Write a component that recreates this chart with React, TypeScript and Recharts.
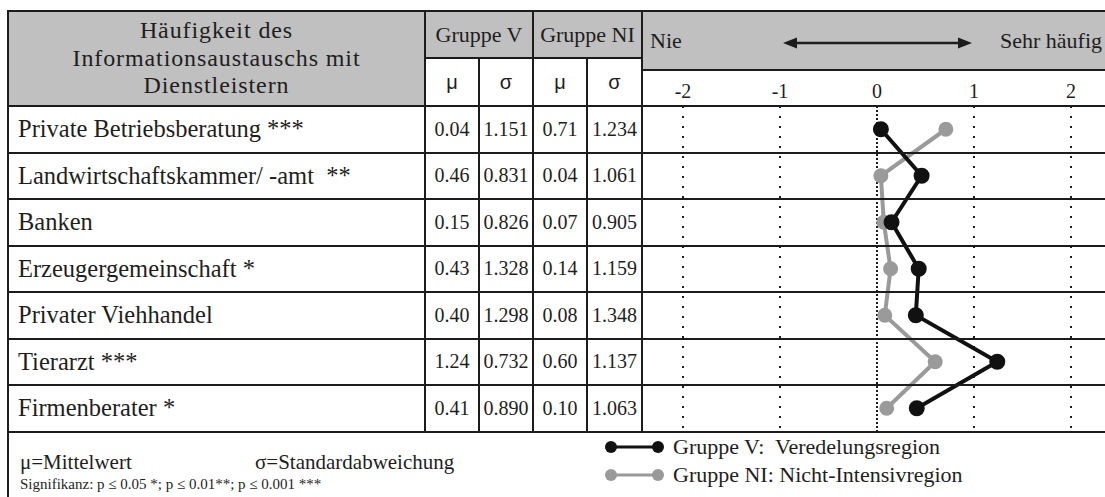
import React from "react";
import { LineChart, Line, XAxis, YAxis, ReferenceLine } from "recharts";

// ─── Data ─────────────────────────────────────────────────────────────────────

const categories = [
  "Private Betriebsberatung ***",
  "Landwirtschaftskammer/ -amt  **",
  "Banken",
  "Erzeugergemeinschaft *",
  "Privater Viehhandel",
  "Tierarzt ***",
  "Firmenberater *",
];
const meanV = [0.04, 0.46, 0.15, 0.43, 0.4, 1.24, 0.41];
const sdV = [1.151, 0.831, 0.826, 1.328, 1.298, 0.732, 0.89];
const meanNI = [0.71, 0.04, 0.07, 0.14, 0.08, 0.6, 0.1];
const sdNI = [1.234, 1.061, 0.905, 1.159, 1.348, 1.137, 1.063];
const scaleTicks = [-2, -1, 0, 1, 2];

const data = categories.map((name, i) => ({ name, v: meanV[i], ni: meanNI[i] }));

// ─── Layout ───────────────────────────────────────────────────────────────────

const SERIF = "'Liberation Serif', 'Times New Roman', serif";
const SANS = "'Liberation Sans', Arial, sans-serif";
const INK = "#1c1c1c";
const GRAY = "#c0c0c0";
const COLS = [8, 425, 479, 533, 587, 642];
const RIGHT = 1105;
const TOP = 11;
const GROUP_MID = 58;
const CHART_MID = 70;
const HEAD_BOTTOM = 106;
const ROW_H = 46.5;
const FOOT = HEAD_BOTTOM + ROW_H * categories.length;

function HLine({ x1, x2, y }: { x1: number; x2: number; y: number }) {
  return <div style={{ position: "absolute", left: x1 - 1, top: y - 1, width: x2 - x1 + 2, height: 2, background: INK }} />;
}

function VLine({ x, y1, y2 }: { x: number; y1: number; y2: number }) {
  return <div style={{ position: "absolute", left: x - 1, top: y1 - 1, width: 2, height: y2 - y1 + 2, background: INK }} />;
}

function Cell({ x1, x2, y1, y2, children, style }: {
  x1: number; x2: number; y1: number; y2: number; children?: React.ReactNode; style?: React.CSSProperties;
}) {
  return (
    <div
      style={{
        position: "absolute", left: x1, top: y1, width: x2 - x1, height: y2 - y1,
        display: "flex", alignItems: "center", justifyContent: "center",
        fontFamily: SERIF, color: "#1e1e1e", whiteSpace: "pre", ...style,
      }}
    >
      {children}
    </div>
  );
}

function LegendMark({ color, y }: { color: string; y: number }) {
  return (
    <svg style={{ position: "absolute", left: 600, top: y - 10 }} width={70} height={20}>
      <line x1={11} y1={10} x2={58} y2={10} stroke={color} strokeWidth={3} />
      <circle cx={11} cy={10} r={6} fill={color} />
      <circle cx={58} cy={10} r={6} fill={color} />
    </svg>
  );
}

// ─── Component ────────────────────────────────────────────────────────────────

export default function App() {
  return (
    <div style={{ position: "absolute", left: 0, top: 0, width: 1105, height: 497, background: "#fff", overflow: "hidden" }}>
      {/* Gray header fills */}
      <div style={{ position: "absolute", left: COLS[0], top: TOP, width: COLS[1] - COLS[0], height: HEAD_BOTTOM - TOP, background: GRAY }} />
      <div style={{ position: "absolute", left: COLS[1], top: TOP, width: COLS[5] - COLS[1], height: GROUP_MID - TOP, background: GRAY }} />
      <div style={{ position: "absolute", left: COLS[5], top: TOP, width: RIGHT - COLS[5], height: CHART_MID - TOP, background: GRAY }} />

      {/* Header text */}
      <Cell x1={COLS[0]} x2={COLS[1]} y1={TOP} y2={HEAD_BOTTOM} style={{ flexDirection: "column", fontSize: 24, lineHeight: "27.7px", letterSpacing: "0.9px" }}>
        <span>Häufigkeit des</span>
        <span>Informationsaustauschs mit</span>
        <span>Dienstleistern</span>
      </Cell>
      <Cell x1={COLS[1]} x2={COLS[3]} y1={TOP} y2={GROUP_MID} style={{ fontSize: 22 }}>Gruppe V</Cell>
      <Cell x1={COLS[3]} x2={COLS[5]} y1={TOP} y2={GROUP_MID} style={{ fontSize: 22 }}>Gruppe NI</Cell>
      {["μ", "σ", "μ", "σ"].map((s, i) => (
        <Cell key={i} x1={COLS[i + 1]} x2={COLS[i + 2]} y1={GROUP_MID} y2={HEAD_BOTTOM} style={{ fontFamily: SANS, fontSize: 20 }}>
          {s}
        </Cell>
      ))}
      <Cell x1={COLS[5] + 8} x2={COLS[5] + 60} y1={TOP} y2={CHART_MID} style={{ fontSize: 22, justifyContent: "flex-start" }}>Nie</Cell>
      <Cell x1={980} x2={RIGHT - 3} y1={TOP} y2={CHART_MID} style={{ fontSize: 22, justifyContent: "flex-end" }}>Sehr häufig</Cell>
      <svg style={{ position: "absolute", left: 780, top: 33 }} width={195} height={20}>
        <line x1={12} y1={10} x2={183} y2={10} stroke={INK} strokeWidth={2.5} />
        <polygon points="3,10 17,4.5 17,15.5" fill={INK} />
        <polygon points="192,10 178,4.5 178,15.5" fill={INK} />
      </svg>

      {/* Body rows */}
      {categories.map((name, i) => {
        const y1 = HEAD_BOTTOM + i * ROW_H;
        const y2 = y1 + ROW_H;
        return (
          <React.Fragment key={name}>
            <Cell x1={COLS[0] + 10} x2={COLS[1]} y1={y1} y2={y2} style={{ fontSize: 24.5, justifyContent: "flex-start" }}>{name}</Cell>
            <Cell x1={COLS[1]} x2={COLS[2]} y1={y1} y2={y2} style={{ fontSize: 20 }}>{meanV[i].toFixed(2)}</Cell>
            <Cell x1={COLS[2]} x2={COLS[3]} y1={y1} y2={y2} style={{ fontSize: 20 }}>{sdV[i].toFixed(3)}</Cell>
            <Cell x1={COLS[3]} x2={COLS[4]} y1={y1} y2={y2} style={{ fontSize: 20 }}>{meanNI[i].toFixed(2)}</Cell>
            <Cell x1={COLS[4]} x2={COLS[5]} y1={y1} y2={y2} style={{ fontSize: 20 }}>{sdNI[i].toFixed(3)}</Cell>
          </React.Fragment>
        );
      })}

      {/* Chart */}
      <LineChart
        layout="vertical"
        width={RIGHT - COLS[5]}
        height={FOOT - CHART_MID}
        data={data}
        margin={{ top: 0, right: 34, bottom: 0, left: 41 }}
        style={{ position: "absolute", left: COLS[5], top: CHART_MID }}
      >
        <XAxis
          type="number"
          orientation="top"
          domain={[-2, 2]}
          ticks={scaleTicks}
          interval={0}
          height={HEAD_BOTTOM - CHART_MID}
          axisLine={false}
          tickLine={false}
          tick={{ fill: "#1e1e1e", fontSize: 20, fontFamily: SERIF }}
        />
        <YAxis type="category" dataKey="name" hide padding={{ top: ROW_H / 2, bottom: ROW_H / 2 }} />
        {scaleTicks.map((t) => (
          <ReferenceLine key={t} x={t} stroke={INK} strokeWidth={2} strokeDasharray={t === 0 ? "2 2" : "2 8"} />
        ))}
        <Line dataKey="ni" stroke="#9a9a9a" strokeWidth={4} dot={{ r: 5.5, fill: "#9a9a9a", stroke: "#9a9a9a" }} isAnimationActive={false} />
        <Line dataKey="v" stroke="#111" strokeWidth={4} dot={{ r: 6, fill: "#111", stroke: "#111" }} isAnimationActive={false} />
      </LineChart>

      {/* Grid lines */}
      <HLine x1={COLS[0]} x2={RIGHT} y={TOP} />
      <HLine x1={COLS[1]} x2={COLS[5]} y={GROUP_MID} />
      <HLine x1={COLS[5]} x2={RIGHT} y={CHART_MID} />
      {categories.map((_, i) => (
        <HLine key={i} x1={COLS[0]} x2={RIGHT} y={HEAD_BOTTOM + i * ROW_H} />
      ))}
      <HLine x1={COLS[0]} x2={RIGHT} y={FOOT} />
      <VLine x={COLS[0]} y1={TOP} y2={497} />
      <VLine x={COLS[1]} y1={TOP} y2={FOOT} />
      <VLine x={COLS[2]} y1={GROUP_MID} y2={FOOT} />
      <VLine x={COLS[3]} y1={TOP} y2={FOOT} />
      <VLine x={COLS[4]} y1={GROUP_MID} y2={FOOT} />
      <VLine x={COLS[5]} y1={TOP} y2={FOOT} />

      {/* Footer */}
      <div style={{ position: "absolute", left: 20, top: 450, fontFamily: SERIF, fontSize: 21, color: "#1e1e1e" }}>μ=Mittelwert</div>
      <div style={{ position: "absolute", left: 255, top: 450, fontFamily: SERIF, fontSize: 21, color: "#1e1e1e" }}>σ=Standardabweichung</div>
      <div style={{ position: "absolute", left: 20, top: 476, fontFamily: SERIF, fontSize: 15, color: "#1e1e1e" }}>
        Signifikanz: p ≤ 0.05 *; p ≤ 0.01**; p ≤ 0.001 ***
      </div>
      <LegendMark color="#111" y={447} />
      <LegendMark color="#9a9a9a" y={475} />
      <div style={{ position: "absolute", left: 673, top: 434, fontFamily: SERIF, fontSize: 22, color: "#1e1e1e", whiteSpace: "pre" }}>
        {"Gruppe V:  Veredelungsregion"}
      </div>
      <div style={{ position: "absolute", left: 673, top: 462, fontFamily: SERIF, fontSize: 22, color: "#1e1e1e", whiteSpace: "pre" }}>
        {"Gruppe NI: Nicht-Intensivregion"}
      </div>
    </div>
  );
}
